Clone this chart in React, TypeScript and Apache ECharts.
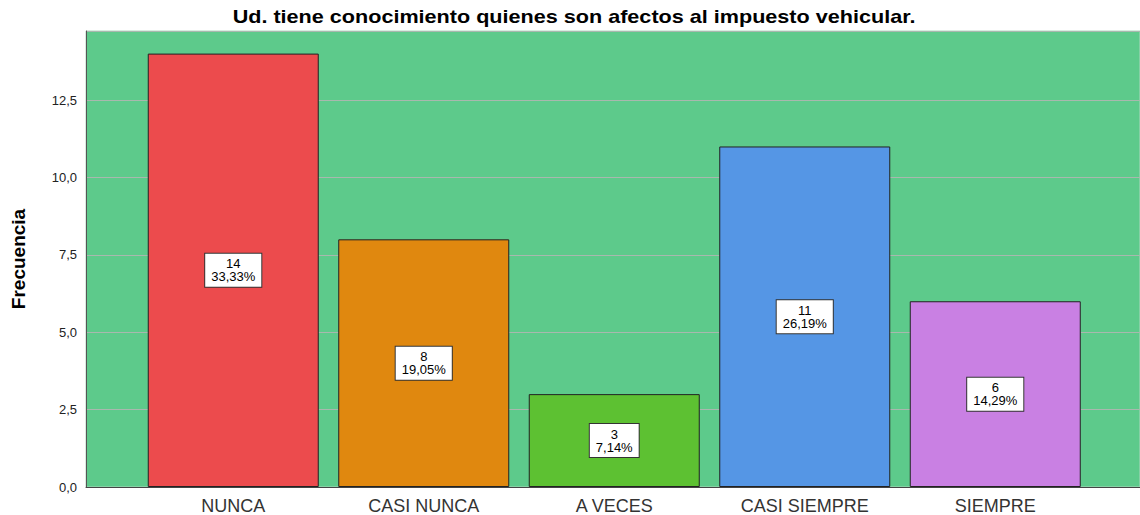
import React, { useEffect, useRef } from "react";
import * as echarts from "echarts";

const titleText = "Ud. tiene conocimiento quienes son afectos al impuesto vehicular.";
const categories = ["NUNCA", "CASI NUNCA", "A VECES", "CASI SIEMPRE", "SIEMPRE"];
const counts = [14, 8, 3, 11, 6];
const percents = ["33,33%", "19,05%", "7,14%", "26,19%", "14,29%"];
const barColors = ["#EC4B4D", "#E0880F", "#5DC132", "#5596E5", "#C980E3"];
const yMax = 14.73;

export default function App() {
  const ref = useRef<HTMLDivElement>(null);
  useEffect(() => {
    if (!ref.current) return;
    const chart = echarts.init(ref.current, null, { renderer: "svg" });
    const fmt = (v: number) =>
      Math.abs(v / 2.5 - Math.round(v / 2.5)) < 1e-6 ? v.toFixed(1).replace(".", ",") : "";
    chart.setOption({
      animation: false,
      graphic: [
        {
          type: "text",
          x: 574,
          y: 17,
          scaleX: 1.2,
          z: 10,
          style: {
            text: titleText,
            textAlign: "center",
            textVerticalAlign: "middle",
            fontFamily: "Liberation Sans, Arial",
            fontSize: 18,
            fontWeight: "bold",
            fill: "#000",
          },
        },
      ],
      grid: [
        {
          left: 86, width: 1054, top: 31, height: 456,
          outerBoundsMode: "none", containLabel: false,
          show: true, backgroundColor: "#5DCA8B", borderColor: "#B0D8C0", borderWidth: 1,
        },
        { left: 138, width: 952.5, top: 31, height: 456, outerBoundsMode: "none", containLabel: false },
      ],
      xAxis: [
        {
          gridIndex: 0, type: "value", min: 0, max: 1,
          axisLine: { show: true, onZero: false, lineStyle: { color: "#444", width: 1 } },
          axisTick: { show: false }, axisLabel: { show: false }, splitLine: { show: false },
        },
        {
          gridIndex: 1, type: "category", data: categories,
          axisLine: { show: false }, axisTick: { show: false },
          axisLabel: { fontFamily: "Liberation Sans, Arial", fontSize: 18, color: "#333", margin: 10 },
        },
      ],
      yAxis: [
        {
          gridIndex: 0, type: "value", min: 0, max: yMax, interval: 2.5,
          name: "Frecuencia", nameLocation: "middle", nameGap: 58,
          nameTextStyle: { fontFamily: "Liberation Sans, Arial", fontSize: 19, fontWeight: "bold", color: "#000" },
          axisLine: { show: true, lineStyle: { color: "#555", width: 1 } },
          axisTick: { show: false },
          axisLabel: { formatter: fmt, fontFamily: "Liberation Sans, Arial", fontSize: 13, color: "#222", margin: 9 },
          splitLine: { show: true, lineStyle: { color: "#A8B8AE", width: 1 } },
        },
        {
          gridIndex: 1, type: "value", min: 0, max: yMax,
          show: false, splitLine: { show: false },
        },
      ],
      series: [
        {
          type: "bar",
          xAxisIndex: 1,
          yAxisIndex: 1,
          barWidth: 171,
          data: counts.map((v, i) => ({
            value: v,
            itemStyle: { color: barColors[i], borderColor: "#222", borderWidth: 1 },
          })),
          label: {
            show: true,
            position: "inside",
            formatter: (p: any) => `${counts[p.dataIndex]}\n${percents[p.dataIndex]}`,
            fontFamily: "Liberation Sans, Arial",
            fontSize: 13,
            lineHeight: 13,
            color: "#000",
            backgroundColor: "#fff",
            borderColor: "#333",
            borderWidth: 1,
            padding: [4, 6, 3, 6],
            align: "center",
          },
        },
      ],
    });
    return () => chart.dispose();
  }, []);
  return (
    <div
      ref={ref}
      style={{ position: "absolute", left: 0, top: 0, width: 1140, height: 515, background: "#fff" }}
    />
  );
}
